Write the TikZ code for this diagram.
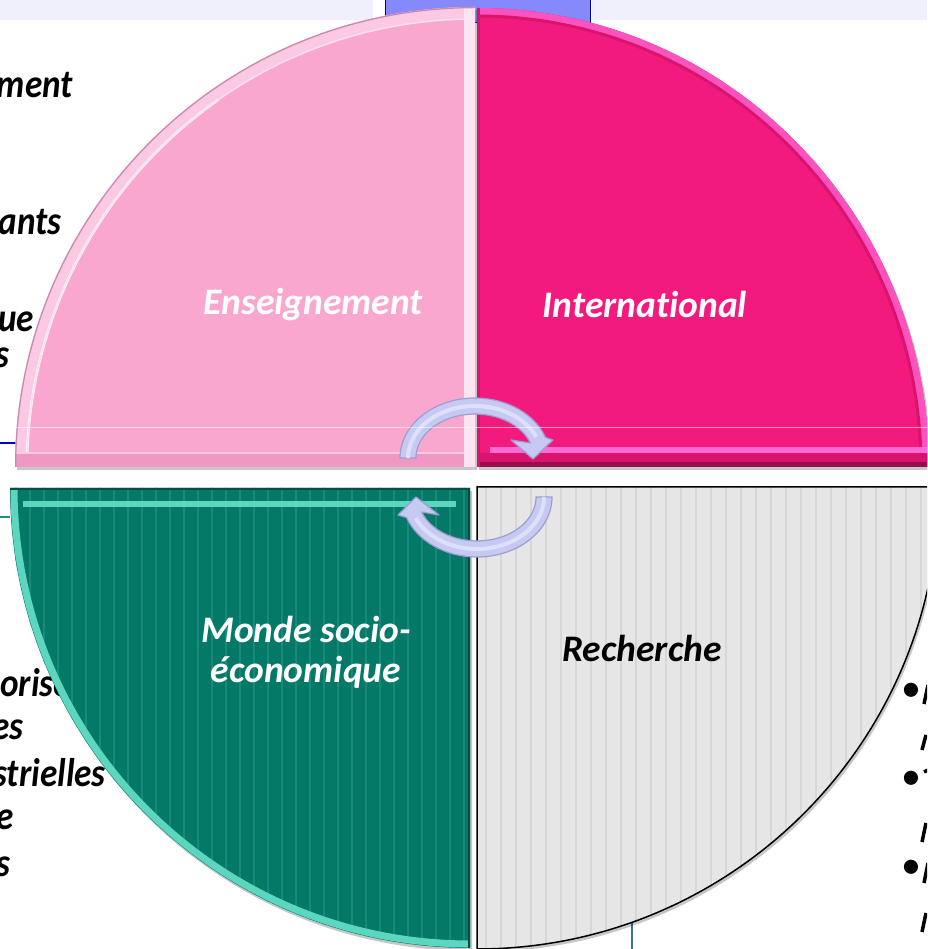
\documentclass[tikz,border=0pt]{standalone}
\usepackage{fontspec}
\setmainfont{Carlito}[Ligatures=NoCommon]

\definecolor{lavstrip}{HTML}{EFF0FC}
\definecolor{bluebox}{HTML}{8689FB}
\definecolor{pinkfill}{HTML}{FAA7D0}
\definecolor{pinkrim}{HTML}{FCC9E4}
\definecolor{pinkdark}{HTML}{EE98C3}
\definecolor{pinkedge}{HTML}{C98AA8}
\definecolor{magfill}{HTML}{F31A7E}
\definecolor{magrim}{HTML}{FF52BE}
\definecolor{magdark}{HTML}{D8146F}
\definecolor{maglight}{HTML}{FF6BD2}
\definecolor{tealfill}{HTML}{057967}
\definecolor{teallight}{HTML}{5CD6BE}
\definecolor{tealdark}{HTML}{0A4D44}
\definecolor{tealstripe}{HTML}{178A7A}
\definecolor{tealline}{HTML}{1F8C80}
\definecolor{greyfill}{HTML}{E6E6E6}
\definecolor{greystripe}{HTML}{D7D7D7}
\definecolor{arrowfill}{HTML}{C6C9F1}
\definecolor{arrowedge}{HTML}{9C9ED0}
\definecolor{arrowlight}{HTML}{DDE0FB}

\tikzset{
  quadlabel/.style={font=\fontsize{37.5}{40}\selectfont\bfseries\itshape,align=center,inner sep=0pt},
  sidetext/.style={font=\fontsize{40}{44}\selectfont\bfseries\itshape,anchor=base east,inner sep=0pt,xscale=0.88},
  cycarrow/.style={fill=arrowfill,draw=arrowedge,line width=1.2pt,line join=round},
  qshadow/.style={fill=black,opacity=0.22},
  cutglyph/.style={line width=3.5pt},
}

\begin{document}
\begin{tikzpicture}[x=1pt,y=1pt]
  \useasboundingbox (0,0) rectangle (927,949);
  \clip (0,0) rectangle (927,949);
  \fill [white] (0,0) rectangle (927,949);
  \fill [lavstrip] (0,929) rectangle (373,949);
  \fill [lavstrip] (592,929) rectangle (927,949);
  \filldraw [fill=bluebox,draw=blue!50!black,line width=1pt] (385,926) rectangle (590,952);
  \draw [blue!80!black,line width=2pt] (0,506) -- (16,506);
  \draw [tealline,line width=1.5pt] (0,432) -- (10,432);
  \draw [cyan!60!blue!70!black,line width=2.5pt] (632,0) -- (632,28);

  \node [sidetext] (ment) at (73,851) {ment};
  \node [sidetext] (ants) at (62,714) {ants};
  \node [sidetext] (ue) at (53,617) {ue (};
  \node [sidetext] (s1) at (10,581) {s};
  \node [sidetext] (orise) at (71,252) {orise};
  \node [sidetext] (es) at (24,209) {es};
  \node [sidetext] (strielles) at (106,162) {strielles};
  \node [sidetext] (e) at (14,119) {e};
  \node [sidetext] (s2) at (11,72) {s};

  \fill [qshadow] (477,479) -- (17,479) arc [start angle=180,end angle=90,radius=460pt] -- cycle;
  \begin{scope}
    \clip (475,482) -- (15,482) arc [start angle=180,end angle=90,radius=460pt] -- cycle;
    \fill [pinkfill] (0,470) rectangle (480,949);
    \draw [pinkrim,line width=24pt] (15,482) arc [start angle=180,end angle=90,radius=460pt];
    \draw [white,line width=2.5pt] (27,482) arc [start angle=180,end angle=125,radius=448pt];
    \draw [white!40!pinkrim,line width=1.5pt] (27,482) arc [start angle=180,end angle=90,radius=448pt];
    \draw [pinkdark,line width=28pt] (15,482) -- (475,482);
    \draw [pinkrim,line width=2pt] (15,496) -- (470,496);
    \draw [white!70!pinkfill,line width=22pt] (475,482) -- (475,942);
    \draw [pinkedge,line width=2.5pt] (15,482) arc [start angle=180,end angle=90,radius=460pt];
  \end{scope}

  \fill [qshadow] (479,479) -- (479,938) arc [start angle=90,end angle=0,x radius=452pt,y radius=459pt] -- cycle;
  \begin{scope}
    \clip (477,482) -- (477,941) arc [start angle=90,end angle=0,x radius=452pt,y radius=459pt] -- cycle;
    \fill [magfill] (470,470) rectangle (940,949);
    \draw [magrim,line width=14pt] (477,941) arc [start angle=90,end angle=0,x radius=452pt,y radius=459pt];
    \draw [magdark,line width=3pt] (477,933) arc [start angle=90,end angle=0,x radius=444pt,y radius=451pt];
    \draw [magdark,line width=28pt] (477,482) -- (940,482);
    \draw [black!30!magdark,line width=9pt] (477,482) -- (940,482);
    \draw [maglight,line width=6pt] (490,499) -- (940,499);
    \draw [magdark,line width=6pt] (477,482) -- (477,941);
  \end{scope}

  \fill [qshadow] (472,458) -- (12,458) arc [start angle=180,end angle=270,radius=460pt] -- cycle;
  \begin{scope}
    \clip (470,461) -- (10,461) arc [start angle=180,end angle=270,radius=460pt] -- cycle;
    \fill [tealfill] (0,0) rectangle (480,470);
    \foreach \x in {16,30,...,470}
      \draw [tealstripe,line width=1.5pt] (\x,0) -- (\x,470);
    \draw [teallight,line width=7pt] (14,461) arc [start angle=180,end angle=270,radius=456pt];
    \draw [teallight,line width=6pt] (23,445) -- (456,445);
    \draw [tealdark,line width=4pt] (10,461) -- (470,461) -- (470,0);
  \end{scope}

  \fill [qshadow] (479,459) -- (941,459) arc [start angle=0,end angle=-90,radius=462pt] -- cycle;
  \begin{scope}
    \clip (477,462) -- (939,462) arc [start angle=0,end angle=-90,radius=462pt] -- cycle;
    \fill [greyfill] (470,0) rectangle (940,470);
    \foreach \x in {486,501,...,940}
      \draw [greystripe,line width=2pt] (\x,0) -- (\x,470);
  \end{scope}
  \draw [black,line width=1.5pt] (477,462) -- (939,462) arc [start angle=0,end angle=-90,radius=462pt] -- cycle;

  \filldraw [cycarrow] (400,491) arc [start angle=180,end angle=20,x radius=75pt,y radius=60pt]
    -- (553,509) -- (533,490) -- (511,509) -- (530.4,506)
    arc [start angle=20,end angle=180,x radius=59pt,y radius=44pt] -- cycle;
  \draw [arrowlight,line width=4pt] (408,491) arc [start angle=180,end angle=24,x radius=67pt,y radius=52pt];
  \filldraw [cycarrow] (552,452) arc [start angle=0,end angle=-160,x radius=75pt,y radius=60pt]
    -- (398,434) -- (416,452) -- (439,434) -- (421.6,437)
    arc [start angle=-160,end angle=0,x radius=59pt,y radius=44pt] -- cycle;
  \draw [arrowlight,line width=4pt] (544,452) arc [start angle=0,end angle=-156,x radius=67pt,y radius=52pt];

  \draw [white,opacity=0.55,line width=0.8pt] (0,522) -- (927,522);

  \node [quadlabel,text=white,anchor=base] (ens) at (313,634) {Enseignement};
  \node [quadlabel,text=white,anchor=base] (intl) at (645,631) {International};
  \node [quadlabel,text=white] (monde) at (306,297) {Monde socio-\\économique};
  \node [quadlabel,text=black,anchor=base] (rech) at (642,287) {Recherche};

  \node [font=\fontsize{40}{44}\selectfont,inner sep=0pt] (b1) at (911,257) {•};
  \node [font=\fontsize{40}{44}\selectfont,inner sep=0pt] (b2) at (911,169) {•};
  \node [font=\fontsize{40}{44}\selectfont,inner sep=0pt] (b3) at (911,80) {•};
  \draw [cutglyph] (924,245) -- (928,264);
  \draw [cutglyph] (922,199) -- (926,214);
  \draw [cutglyph] (924,177) -- (928,179);
  \draw [cutglyph] (922,107) -- (926,126);
  \draw [cutglyph] (924,66) -- (928,86);
  \draw [cutglyph] (922,17) -- (926,36);
\end{tikzpicture}
\end{document}
